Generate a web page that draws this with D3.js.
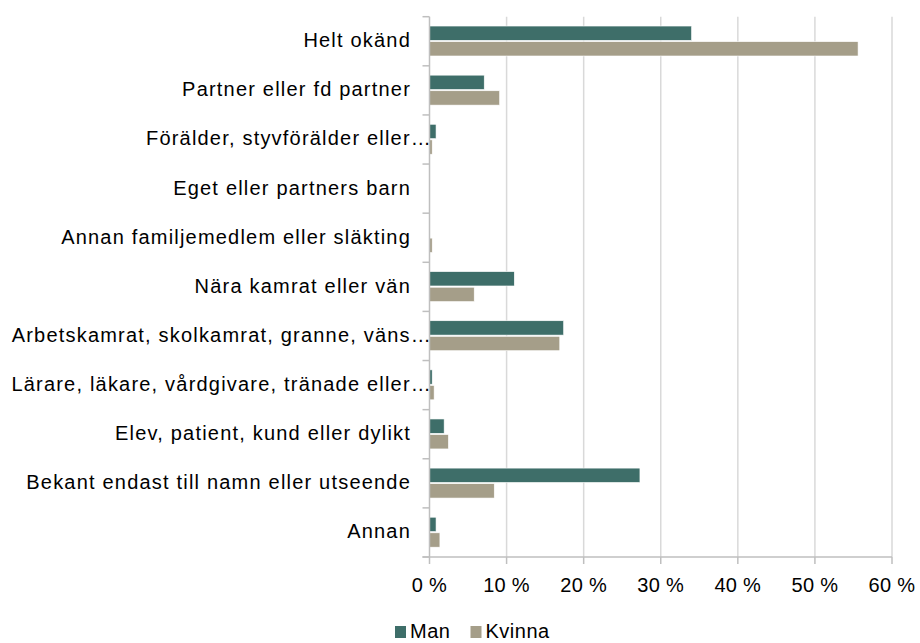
<!DOCTYPE html>
<html><head><meta charset="utf-8">
<script src="https://cdn.jsdelivr.net/npm/d3@7/dist/d3.min.js"></script>
<style>body{margin:0;background:#fff}svg{display:block}</style>
</head><body>
<svg id="c" width="920" height="643"></svg>
<script>
const categories = [
  "Helt okänd",
  "Partner eller fd partner",
  "Förälder, styvförälder eller…",
  "Eget eller partners barn",
  "Annan familjemedlem eller släkting",
  "Nära kamrat eller vän",
  "Arbetskamrat, skolkamrat, granne, väns…",
  "Lärare, läkare, vårdgivare, tränade eller…",
  "Elev, patient, kund eller dylikt",
  "Bekant endast till namn eller utseende",
  "Annan"
];
const seriesNames = ["Man", "Kvinna"];
const man    = [34.0, 7.1, 0.85, 0, 0, 11.0, 17.4, 0.35, 1.9, 27.3, 0.85];
const kvinna = [55.6, 9.1, 0.35, 0, 0.35, 5.8, 16.9, 0.6, 2.45, 8.4, 1.35];
const xTicks = [0, 10, 20, 30, 40, 50, 60];
const colors = {Man: "#3e6e69", Kvinna: "#a59e89"};

const svg = d3.select("#c");
const font = "'Liberation Sans', Arial, sans-serif";
const pLeft = 429.5, pRight = 892, pTop = 16.7, pBottom = 557;

const x = d3.scaleLinear().domain([0, 60]).range([pLeft, pRight]);
const y = d3.scaleBand().domain(categories).range([pTop, pBottom]).padding(0);
const ySub = d3.scaleBand().domain(seriesNames)
  .range([y.bandwidth() * 0.19, y.bandwidth() * 0.80]).paddingInner(0.08);

// gridlines
svg.append("g").selectAll("line").data(xTicks.filter(d => d > 0)).join("line")
  .attr("x1", d => x(d)).attr("x2", d => x(d))
  .attr("y1", pTop).attr("y2", pBottom)
  .attr("stroke", "#d9d9d9").attr("stroke-width", 1.5);

// bars
const rows = categories.map((c, i) => ({c, vals: [{s: "Man", v: man[i]}, {s: "Kvinna", v: kvinna[i]}]}));
const g = svg.append("g").selectAll("g").data(rows).join("g")
  .attr("transform", d => `translate(0,${y(d.c)})`);
g.selectAll("rect").data(d => d.vals.filter(e => e.v > 0)).join("rect")
  .attr("x", x(0)).attr("y", d => ySub(d.s))
  .attr("width", d => x(d.v) - x(0)).attr("height", ySub.bandwidth())
  .attr("fill", d => colors[d.s])
  .attr("stroke", "#ffffff").attr("stroke-width", 0.6);

// y axis line and ticks
svg.append("line").attr("x1", pLeft).attr("x2", pLeft).attr("y1", pTop).attr("y2", pBottom)
  .attr("stroke", "#bfbfbf").attr("stroke-width", 1.5);
const yTickPos = categories.map(c => y(c)).concat([pBottom]);
svg.append("g").selectAll("line").data(yTickPos).join("line")
  .attr("x1", pLeft - 7).attr("x2", pLeft).attr("y1", d => d).attr("y2", d => d)
  .attr("stroke", "#bfbfbf").attr("stroke-width", 1.5);

// x axis line + ticks
svg.append("line").attr("x1", pLeft - 7).attr("x2", pRight).attr("y1", pBottom).attr("y2", pBottom)
  .attr("stroke", "#bfbfbf").attr("stroke-width", 1.5);
svg.append("g").selectAll("line").data(xTicks).join("line")
  .attr("x1", d => x(d)).attr("x2", d => x(d)).attr("y1", pBottom).attr("y2", pBottom + 7)
  .attr("stroke", "#bfbfbf").attr("stroke-width", 1.5);

// x tick labels
svg.append("g").selectAll("text").data(xTicks).join("text")
  .attr("x", d => x(d)).attr("y", 592)
  .attr("text-anchor", "middle")
  .attr("font-family", font).attr("font-size", 20).attr("letter-spacing", "0.3px").attr("fill", "#000")
  .text(d => d + " %");

// category labels
svg.append("g").selectAll("text").data(categories).join("text")
  .attr("x", d => d.endsWith("…") ? 432 : 411)
  .attr("y", d => y(d) + y.bandwidth() / 2)
  .attr("dy", "0.3em")
  .attr("text-anchor", "end")
  .attr("font-family", font).attr("font-size", 20).attr("letter-spacing", "1.2px")
  .attr("fill", "#000")
  .text(d => d);

// legend
const legendPos = [{s: "Man", x: 395}, {s: "Kvinna", x: 470.5}];
const lg = svg.append("g").selectAll("g").data(legendPos).join("g")
  .attr("transform", d => `translate(${d.x},0)`);
lg.append("rect").attr("x", 0).attr("y", 626).attr("width", 11).attr("height", 12)
  .attr("fill", d => colors[d.s]);
lg.append("text").attr("x", 15).attr("y", 638)
  .attr("font-family", font).attr("font-size", 20).attr("letter-spacing", "0.5px").attr("fill", "#000")
  .text(d => d.s);
</script>
</body></html>
